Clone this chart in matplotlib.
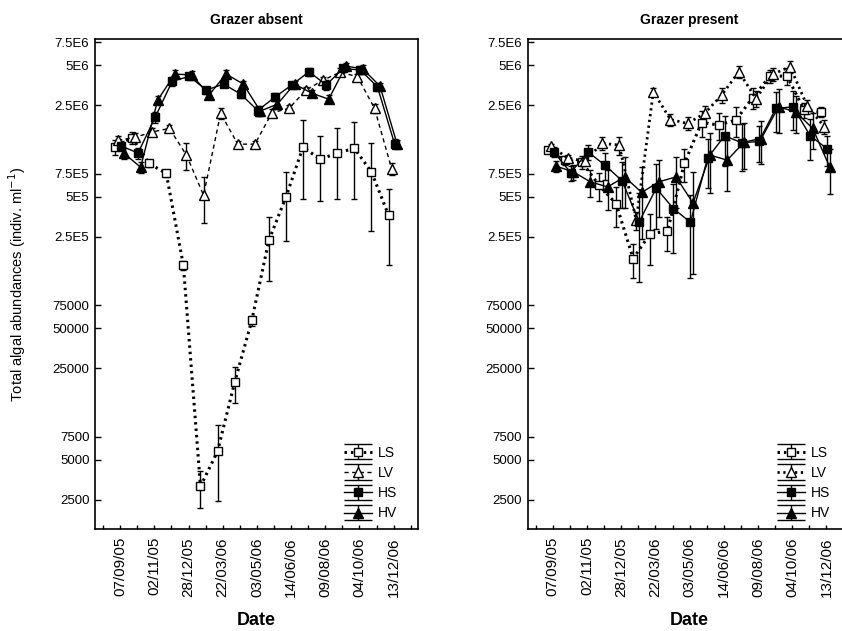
import numpy as np
import matplotlib
matplotlib.use("Agg")
import matplotlib.pyplot as plt
from matplotlib.ticker import FixedLocator, NullLocator
from matplotlib.legend_handler import HandlerErrorbar
from matplotlib.container import ErrorbarContainer

plt.rcParams['font.family'] = ['Liberation Sans', 'DejaVu Sans']

# sampling dates shown on the x axis (every second tick)
date_labels = ['07/09/05', '02/11/05', '28/12/05', '22/03/06', '03/05/06',
               '14/06/06', '09/08/06', '04/10/06', '13/12/06']
sample = np.arange(17)

# y axis ticks (log scale)
ytick_vals = [7.5e6, 5e6, 2.5e6, 7.5e5, 5e5, 2.5e5, 75000, 50000, 25000, 7500, 5000, 2500]
ytick_text = ['7.5E6', '5E6', '2.5E6', '7.5E5', '5E5', '2.5E5',
              '75000', '50000', '25000', '7500', '5000', '2500']

# --- Grazer absent: means and standard errors (indiv. ml-1)
ls_absent = [1.20e6, 1.41e6, 8.98e5, 7.54e5, 1.51e5, 3150, 5820, 19500, 57500,
             2.34e5, 5.0e5, 1.20e6, 9.64e5, 1.08e6, 1.17e6, 7.75e5, 3.63e5]
ls_absent_se = [1.5e5, 1.5e5, 5e4, 4e4, 1.2e4, 1000, 3400, 6000, 5000,
                1.2e5, 2.7e5, 7.2e5, 5.0e5, 6.0e5, 6.9e5, 5.0e5, 2.1e5]
lv_absent = [1.35e6, 1.42e6, 1.56e6, 1.66e6, 1.04e6, 5.15e5, 2.16e6, 1.26e6, 1.26e6,
             2.18e6, 2.36e6, 3.25e6, 3.87e6, 4.45e6, 4.10e6, 2.36e6, 8.2e5]
lv_absent_se = [1e5, 1e5, 1e5, 1e5, 2.4e5, 2.0e5, 2e5, 8e4, 8e4,
                1.5e5, 1.5e5, 2e5, 2e5, 3e5, 2e5, 2e5, 8e4]
hs_absent = [1.22e6, 1.08e6, 2.02e6, 3.80e6, 4.12e6, 3.25e6, 3.61e6, 3.03e6, 2.27e6,
             2.87e6, 3.56e6, 4.48e6, 3.55e6, 4.75e6, 4.61e6, 3.44e6, 1.27e6]
hs_absent_se = [1e5, 1e5, 2e5, 3e5, 2e5, 2e5, 2e5, 2e5, 2e5,
                2e5, 2e5, 3e5, 3e5, 3e5, 3e5, 2e5, 1e5]
hv_absent = [1.08e6, 8.41e5, 2.73e6, 4.30e6, 4.23e6, 2.98e6, 4.30e6, 3.61e6, 2.25e6,
             2.54e6, 3.61e6, 3.08e6, 2.77e6, 4.95e6, 4.70e6, 3.48e6, 1.26e6]
hv_absent_se = [1e5, 8e4, 2e5, 3e5, 3e5, 2e5, 3e5, 2e5, 2e5,
                2e5, 2e5, 2e5, 2e5, 3e5, 3e5, 2e5, 1e5]

# --- Grazer present
ls_present = [1.13e6, 9.52e5, 9.19e5, 6.14e5, 4.45e5, 1.70e5, 2.63e5, 2.74e5, 9.03e5,
              1.84e6, 1.76e6, 1.92e6, 2.85e6, 4.15e6, 4.15e6, 2.29e6, 2.22e6]
ls_present_se = [6e4, 8e4, 1.0e5, 1.5e5, 1.5e5, 5e4, 1.1e5, 8e4, 2.5e5,
                 4e5, 4e5, 5e5, 5e5, 5e5, 6e5, 3e5, 2e5]
lv_present = [1.22e6, 9.86e5, 9.35e5, 1.28e6, 1.24e6, 3.32e5, 3.15e6, 1.94e6, 1.81e6,
              2.16e6, 2.98e6, 4.48e6, 2.80e6, 4.30e6, 4.89e6, 2.45e6, 1.71e6]
lv_present_se = [5e4, 5e4, 5e4, 1.5e5, 2e5, 5e4, 2e5, 2e5, 2e5,
                 3e5, 4e5, 5e5, 4e5, 5e5, 5e5, 3e5, 2e5]
hs_present = [1.10e6, 7.64e5, 1.10e6, 8.72e5, 6.64e5, 3.23e5, 5.83e5, 4.08e5, 3.21e5,
              9.89e5, 1.46e6, 1.29e6, 1.32e6, 2.36e6, 2.42e6, 1.46e6, 1.16e6]
hs_present_se = [1e5, 1e5, 1.5e5, 2e5, 2.5e5, 2.1e5, 3e5, 2.2e5, 2.0e5,
                 4e5, 6e5, 5e5, 4e5, 8e5, 8e5, 5e5, 3e5]
hv_present = [8.57e5, 7.75e5, 6.51e5, 5.96e5, 7.10e5, 5.41e5, 6.51e5, 7.10e5, 4.50e5,
              1.04e6, 9.52e5, 1.31e6, 1.39e6, 2.42e6, 2.22e6, 1.66e6, 8.42e5]
hv_present_se = [8e4, 1e5, 1.5e5, 2.0e5, 3e5, 3e5, 3e5, 3e5, 3.2e5,
                 5e5, 4e5, 5e5, 5e5, 9e5, 7e5, 5e5, 3.2e5]

dotted = (0, (0.8, 1.3))
dashed = (0, (3, 2.5))


def draw_panel(ax, title, series):
    handles = []
    for name, vals, se, shift, marker, face, ls, lw in series:
        style = dict(color='black', ecolor='black', elinewidth=1,
                     marker=marker, markersize=6.5 if marker == '^' else 5.8,
                     markerfacecolor=face, markeredgecolor='black', markeredgewidth=1,
                     linestyle=ls, linewidth=lw)
        ax.errorbar(sample + shift, vals, yerr=se, capsize=2.2, **style)
        # legend key: same style, wide whisker caps
        handles.append(ax.errorbar([np.nan], [np.nan], yerr=[1], capsize=10,
                                   label=name, **style))
    ax.set_yscale('log')
    ax.set_ylim(1500, 7.9e6)
    ax.set_xlim(-0.47, 18.44)
    ax.yaxis.set_major_locator(FixedLocator(ytick_vals))
    ax.set_yticklabels(ytick_text)
    ax.yaxis.set_minor_locator(NullLocator())
    ax.set_xticks(np.arange(19))
    ax.set_xticklabels(['' if k % 2 == 0 else date_labels[k // 2] for k in range(19)],
                       rotation=90)
    ax.tick_params(axis='both', direction='in', width=1)
    ax.tick_params(axis='y', length=4.5, pad=4, labelsize=9.5)
    ax.tick_params(axis='x', length=3, pad=6, labelsize=11)
    for sp in ax.spines.values():
        sp.set_linewidth(1.2)
    ax.set_title(title, fontsize=10, fontweight='bold', pad=11)
    ax.set_xlabel('Date', fontsize=13, fontweight='bold', labelpad=11)
    ax.legend(handles=handles, loc='lower right', bbox_to_anchor=(0.96, 0.0),
              frameon=False, fontsize=10, handlelength=2.0, handletextpad=0.4,
              labelspacing=0.45, borderaxespad=0.2,
              handler_map={ErrorbarContainer: HandlerErrorbar(yerr_size=0.55)})


fig = plt.figure(figsize=(8.42, 6.31), dpi=100)
ax1 = fig.add_axes([0.1128, 0.1621, 0.384, 0.7756])
ax2 = fig.add_axes([0.6267, 0.1621, 0.384, 0.7756])

draw_panel(ax1, 'Grazer absent', [
    ('LS', ls_absent, ls_absent_se, 0.70, 's', 'white', dotted, 2.2),
    ('LV', lv_absent, lv_absent_se, 0.88, '^', 'white', dashed, 1.0),
    ('HS', hs_absent, hs_absent_se, 1.05, 's', 'black', '-', 1.0),
    ('HV', hv_absent, hv_absent_se, 1.20, '^', 'black', '-', 1.0),
])
draw_panel(ax2, 'Grazer present', [
    ('LS', ls_present, ls_present_se, 0.70, 's', 'white', dotted, 2.2),
    ('LV', lv_present, lv_present_se, 0.88, '^', 'white', dotted, 2.0),
    ('HS', hs_present, hs_present_se, 1.05, 's', 'black', '-', 1.0),
    ('HV', hv_present, hv_present_se, 1.20, '^', 'black', '-', 1.0),
])
ax1.set_ylabel(r'Total algal abundances (indiv. ml$^{-1}$)', fontsize=10.5, labelpad=18)

fig.savefig('out.png', dpi=100)
